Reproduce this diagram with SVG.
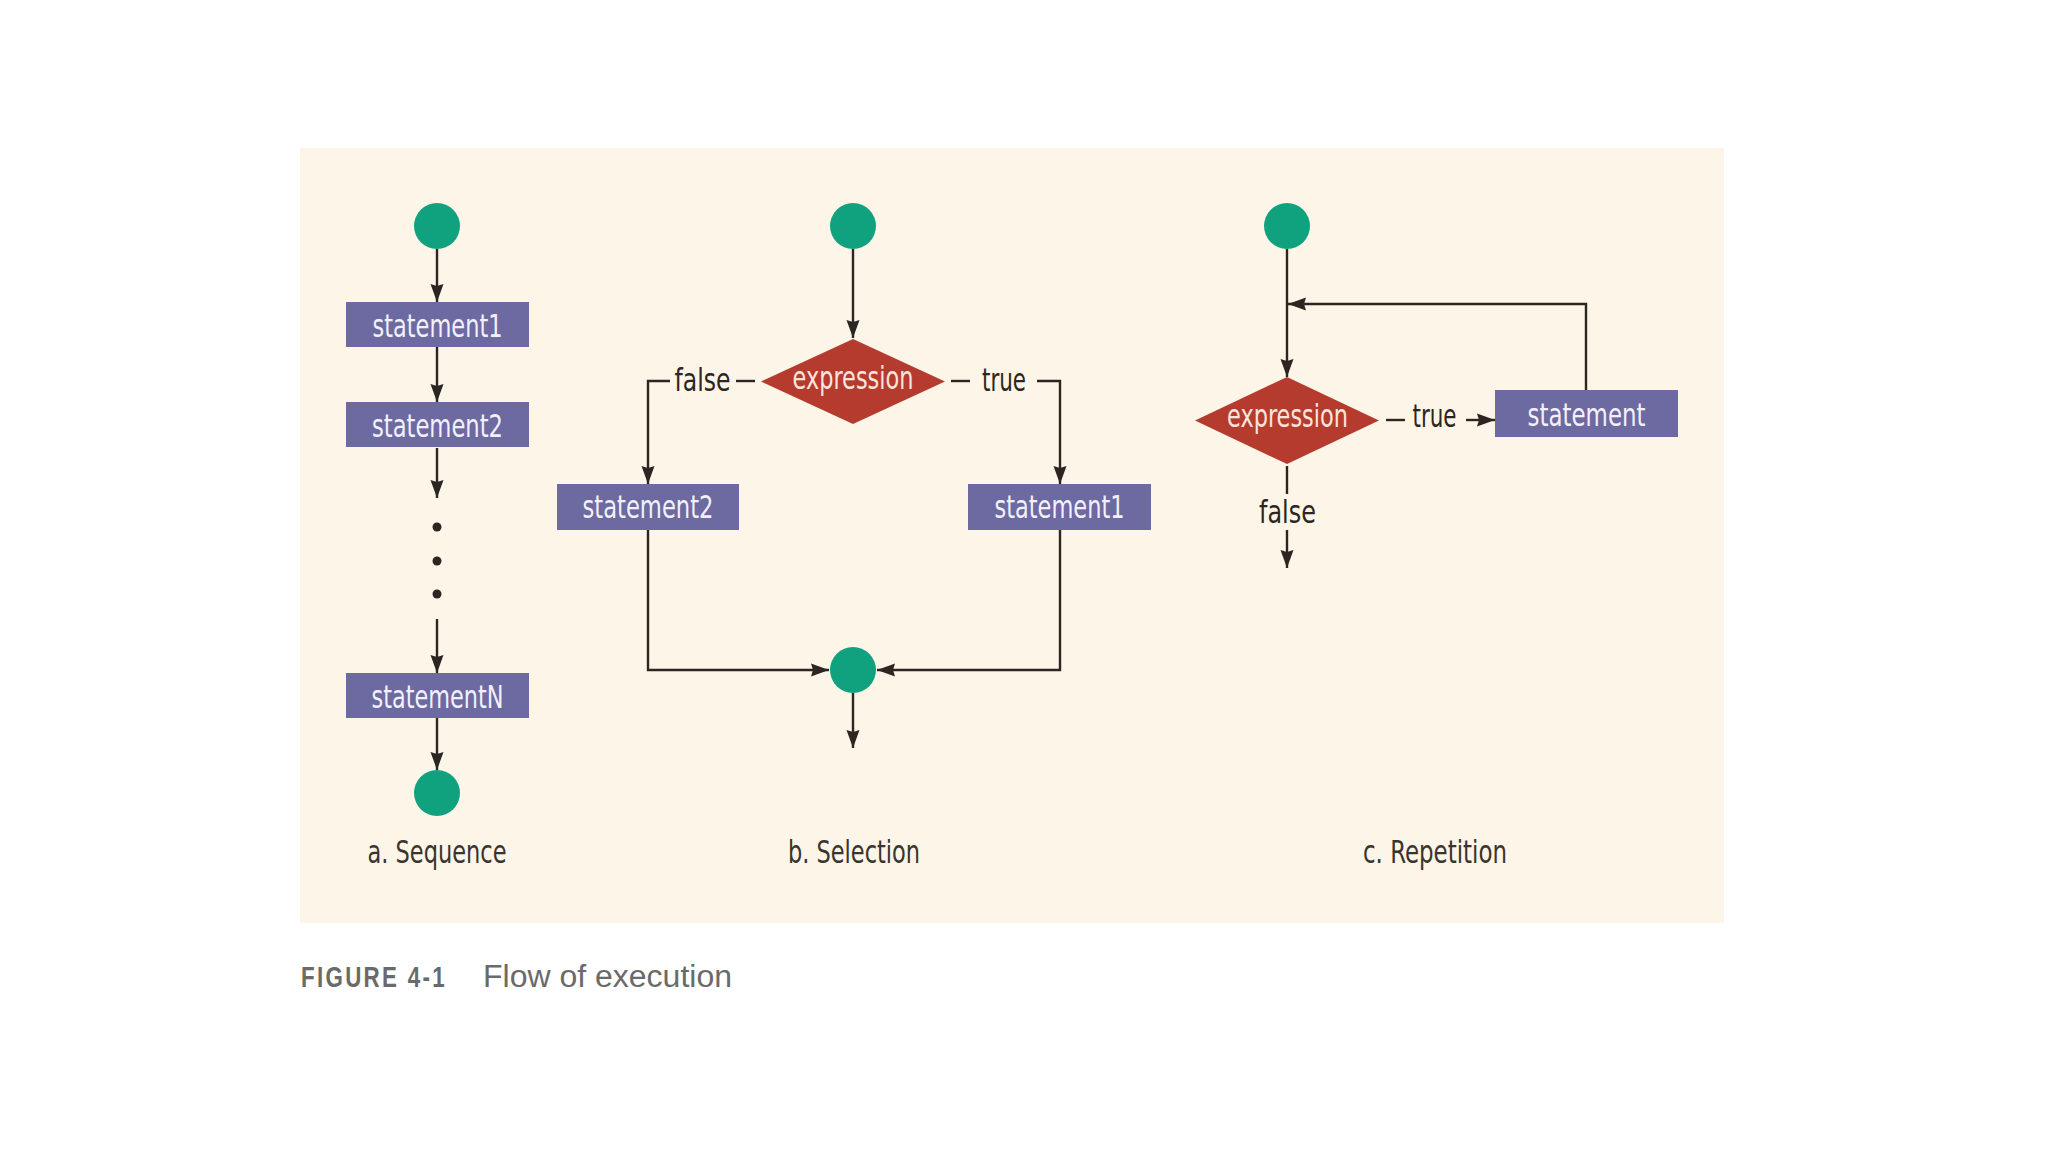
<svg xmlns="http://www.w3.org/2000/svg" width="2048" height="1152" viewBox="0 0 2048 1152">
<style>
.lbl{font-family:"DejaVu Sans Condensed","Liberation Sans",sans-serif;font-size:32px;text-anchor:middle}
.box{fill:#6d69a1}
.boxt{fill:#f2f1fb}
.dia{fill:#b63b2f}
.diat{fill:#fbe4dc}
.dark{fill:#2c2622}
.start{fill:#10a27f}
.ln{fill:none;stroke:#2c2622;stroke-width:2.4}
.cap{font-family:"Liberation Sans","DejaVu Sans",sans-serif;fill:#6a6a6a}
</style>
<defs>
<marker id="ah" markerUnits="userSpaceOnUse" markerWidth="18" markerHeight="14" refX="18" refY="7" orient="auto">
<path d="M0,0.5 L18,7 L0,13.5 L2,7 z" fill="#2c2622"/>
</marker>
</defs>
<rect width="2048" height="1152" fill="#ffffff"/>
<rect x="300" y="148" width="1424" height="775" fill="#fdf5e7"/>

<g id="connectors">
<!-- sequence -->
<line class="ln" x1="437" y1="249" x2="437" y2="302" marker-end="url(#ah)"/>
<line class="ln" x1="437" y1="347" x2="437" y2="402" marker-end="url(#ah)"/>
<line class="ln" x1="437" y1="448" x2="437" y2="498" marker-end="url(#ah)"/>
<line class="ln" x1="437" y1="619" x2="437" y2="673" marker-end="url(#ah)"/>
<line class="ln" x1="437" y1="718" x2="437" y2="770" marker-end="url(#ah)"/>
<!-- selection -->
<line class="ln" x1="853" y1="249" x2="853" y2="338" marker-end="url(#ah)"/>
<path class="ln" d="M670,381 H648 V484" marker-end="url(#ah)"/>
<line class="ln" x1="736" y1="381" x2="755" y2="381"/>
<line class="ln" x1="951" y1="381" x2="970" y2="381"/>
<path class="ln" d="M1037,381 H1060 V484" marker-end="url(#ah)"/>
<path class="ln" d="M648,530 V670 H829" marker-end="url(#ah)"/>
<path class="ln" d="M1060,530 V670 H877" marker-end="url(#ah)"/>
<line class="ln" x1="853" y1="693" x2="853" y2="748" marker-end="url(#ah)"/>
<!-- repetition -->
<line class="ln" x1="1287" y1="249" x2="1287" y2="377" marker-end="url(#ah)"/>
<path class="ln" d="M1586,390 V304 H1288" marker-end="url(#ah)"/>
<line class="ln" x1="1386" y1="420" x2="1405" y2="420"/>
<line class="ln" x1="1466" y1="420" x2="1495" y2="420" marker-end="url(#ah)"/>
<line class="ln" x1="1287" y1="466" x2="1287" y2="494"/>
<line class="ln" x1="1287" y1="530" x2="1287" y2="568" marker-end="url(#ah)"/>
</g>

<g id="seq-start"><circle class="start" cx="437" cy="226" r="23"/></g>
<g id="seq-statement1"><rect class="box" x="346" y="302" width="183" height="45"/><text class="lbl boxt" x="437.5" y="337" textLength="130" lengthAdjust="spacingAndGlyphs">statement1</text></g>
<g id="seq-statement2"><rect class="box" x="346" y="402" width="183" height="45"/><text class="lbl boxt" x="437.5" y="437" textLength="131" lengthAdjust="spacingAndGlyphs">statement2</text></g>
<g id="seq-dots"><circle class="dark" cx="437" cy="527" r="4.5"/><circle class="dark" cx="437" cy="561" r="4.5"/><circle class="dark" cx="437" cy="594" r="4.5"/></g>
<g id="seq-statementN"><rect class="box" x="346" y="673" width="183" height="45"/><text class="lbl boxt" x="437.5" y="708" textLength="132" lengthAdjust="spacingAndGlyphs">statementN</text></g>
<g id="seq-end"><circle class="start" cx="437" cy="793" r="23"/></g>
<g id="seq-caption"><text class="lbl" fill="#3a342f" x="437" y="863" textLength="139" lengthAdjust="spacingAndGlyphs">a. Sequence</text></g>

<g id="sel-start"><circle class="start" cx="853" cy="226" r="23"/></g>
<g id="sel-expression"><polygon class="dia" points="761,381.5 853,339 945,381.5 853,424"/><text class="lbl diat" x="853" y="389" textLength="121" lengthAdjust="spacingAndGlyphs">expression</text></g>
<g id="sel-false"><text class="lbl dark" x="702.5" y="391" textLength="56" lengthAdjust="spacingAndGlyphs">false</text></g>
<g id="sel-true"><text class="lbl dark" x="1004" y="391" textLength="44" lengthAdjust="spacingAndGlyphs">true</text></g>
<g id="sel-statement2"><rect class="box" x="557" y="484" width="182" height="46"/><text class="lbl boxt" x="648" y="518" textLength="131" lengthAdjust="spacingAndGlyphs">statement2</text></g>
<g id="sel-statement1"><rect class="box" x="968" y="484" width="183" height="46"/><text class="lbl boxt" x="1059.5" y="518" textLength="130" lengthAdjust="spacingAndGlyphs">statement1</text></g>
<g id="sel-join"><circle class="start" cx="853" cy="670" r="23"/></g>
<g id="sel-caption"><text class="lbl" fill="#3a342f" x="854" y="863" textLength="132" lengthAdjust="spacingAndGlyphs">b. Selection</text></g>

<g id="rep-start"><circle class="start" cx="1287" cy="226" r="23"/></g>
<g id="rep-expression"><polygon class="dia" points="1195,420.5 1287,377 1379,420.5 1287,464"/><text class="lbl diat" x="1287.5" y="427" textLength="121" lengthAdjust="spacingAndGlyphs">expression</text></g>
<g id="rep-true"><text class="lbl dark" x="1434.5" y="427" textLength="44" lengthAdjust="spacingAndGlyphs">true</text></g>
<g id="rep-statement"><rect class="box" x="1495" y="390" width="183" height="47"/><text class="lbl boxt" x="1586.5" y="426" textLength="118" lengthAdjust="spacingAndGlyphs">statement</text></g>
<g id="rep-false"><text class="lbl dark" x="1287.5" y="523" textLength="57" lengthAdjust="spacingAndGlyphs">false</text></g>
<g id="rep-caption"><text class="lbl" fill="#3a342f" x="1435" y="863" textLength="144" lengthAdjust="spacingAndGlyphs">c. Repetition</text></g>

<g id="figure-caption">
<text class="cap" x="301" y="987" font-size="29" font-weight="bold" letter-spacing="3" textLength="146" lengthAdjust="spacingAndGlyphs">FIGURE 4-1</text>
<text class="cap" x="483" y="987" font-size="31" textLength="249" lengthAdjust="spacingAndGlyphs">Flow of execution</text>
</g>
</svg>
